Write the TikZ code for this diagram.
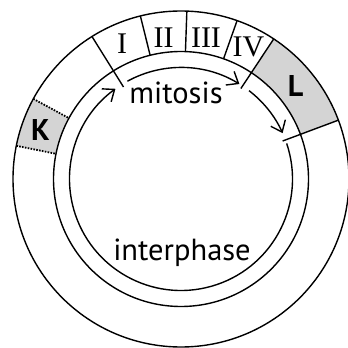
\documentclass[tikz,border=0pt]{standalone}
\usepackage{xcolor}
\usepackage{fontspec}
\usepackage{tikz}
\usetikzlibrary{arrows.meta}
\newfontfamily\numfont{Liberation Serif}
\newfontfamily\labfont{PT Sans}
\definecolor{phasegray}{gray}{0.83}
\tikzset{
  ring/.style={line width=1.4bp},
  cycarrow/.style={line width=1.4bp, -{Straight Barb[length=10bp,width=16bp,line width=1.4bp]}},
  numlabel/.style={inner sep=0pt, font=\numfont\fontsize{30bp}{30bp}\selectfont},
  txtlabel/.style={inner sep=0pt, font=\labfont\fontsize{30.5bp}{30bp}\selectfont},
  boldlabel/.style={inner sep=0pt, font=\labfont\bfseries\fontsize{30bp}{30bp}\selectfont}
}
\begin{document}
\begin{tikzpicture}[x=1bp,y=1bp]
             \useasboundingbox (0,0) rectangle (348,348);
             \begin{scope}[shift={(181,169)}]
             % shaded phases
             \fill[phasegray] (20.5:127.5) arc[start angle=20.5, end angle=56.5, radius=127.5]
                  -- (56.5:168) arc[start angle=56.5, end angle=20.5, radius=168] -- cycle;
             \fill[phasegray] (151.5:127.5) arc[start angle=151.5, end angle=168.6, radius=127.5]
                  -- (168.6:168) arc[start angle=168.6, end angle=151.5, radius=168] -- cycle;

             \draw[ring] (0,0) circle (168);
             \draw[ring] (0,0) circle (127.5);

             % inner cycle arrows
             \draw[cycarrow] (18.6:111.5) arc[start angle=18.6, end angle=-234, radius=111.5];
             \draw[cycarrow] (118.7:111.5) arc[start angle=118.7, end angle=58.4, radius=111.5];
             \draw[cycarrow] (52.4:111.5) arc[start angle=52.4, end angle=24.3, radius=111.5];

             \draw[ring] (122:168) -- (122:108.5);
             \draw[ring] (56.5:168) -- (56.5:108.5);
             \draw[ring] (20.5:168) -- (20.5:108.5);

             \draw[ring] (104:168) -- (104:127.5);
             \draw[ring] (88:168) -- (88:127.5);
             \draw[ring] (70.5:168) -- (70.5:127.5);

             \draw[line width=1.8bp, dash pattern=on 1.6bp off 1.3bp] (151.5:168) -- (151.5:127.5);
             \draw[line width=1.8bp, dash pattern=on 1.6bp off 1.3bp] (168.6:168) -- (168.6:127.5);
             \end{scope}

             \node[numlabel] (ph1) at (122, 304) {I};
             \node[numlabel] (ph2) at (163.5, 310) {II};
             \node[numlabel] (ph3) at (206, 310.5) {III};
             \node[numlabel] (ph4) at (248.5, 301) {IV};

             \node[txtlabel, anchor=base] (mit) at (176, 245) {mitosis};
             \node[txtlabel, anchor=base] (inter) at (182, 88) {interphase};
             \node[boldlabel] (kk) at (40.5, 218) {K};
             \node[boldlabel] (ll) at (295.5, 262.5) {L};
             \end{tikzpicture}
\end{document}
